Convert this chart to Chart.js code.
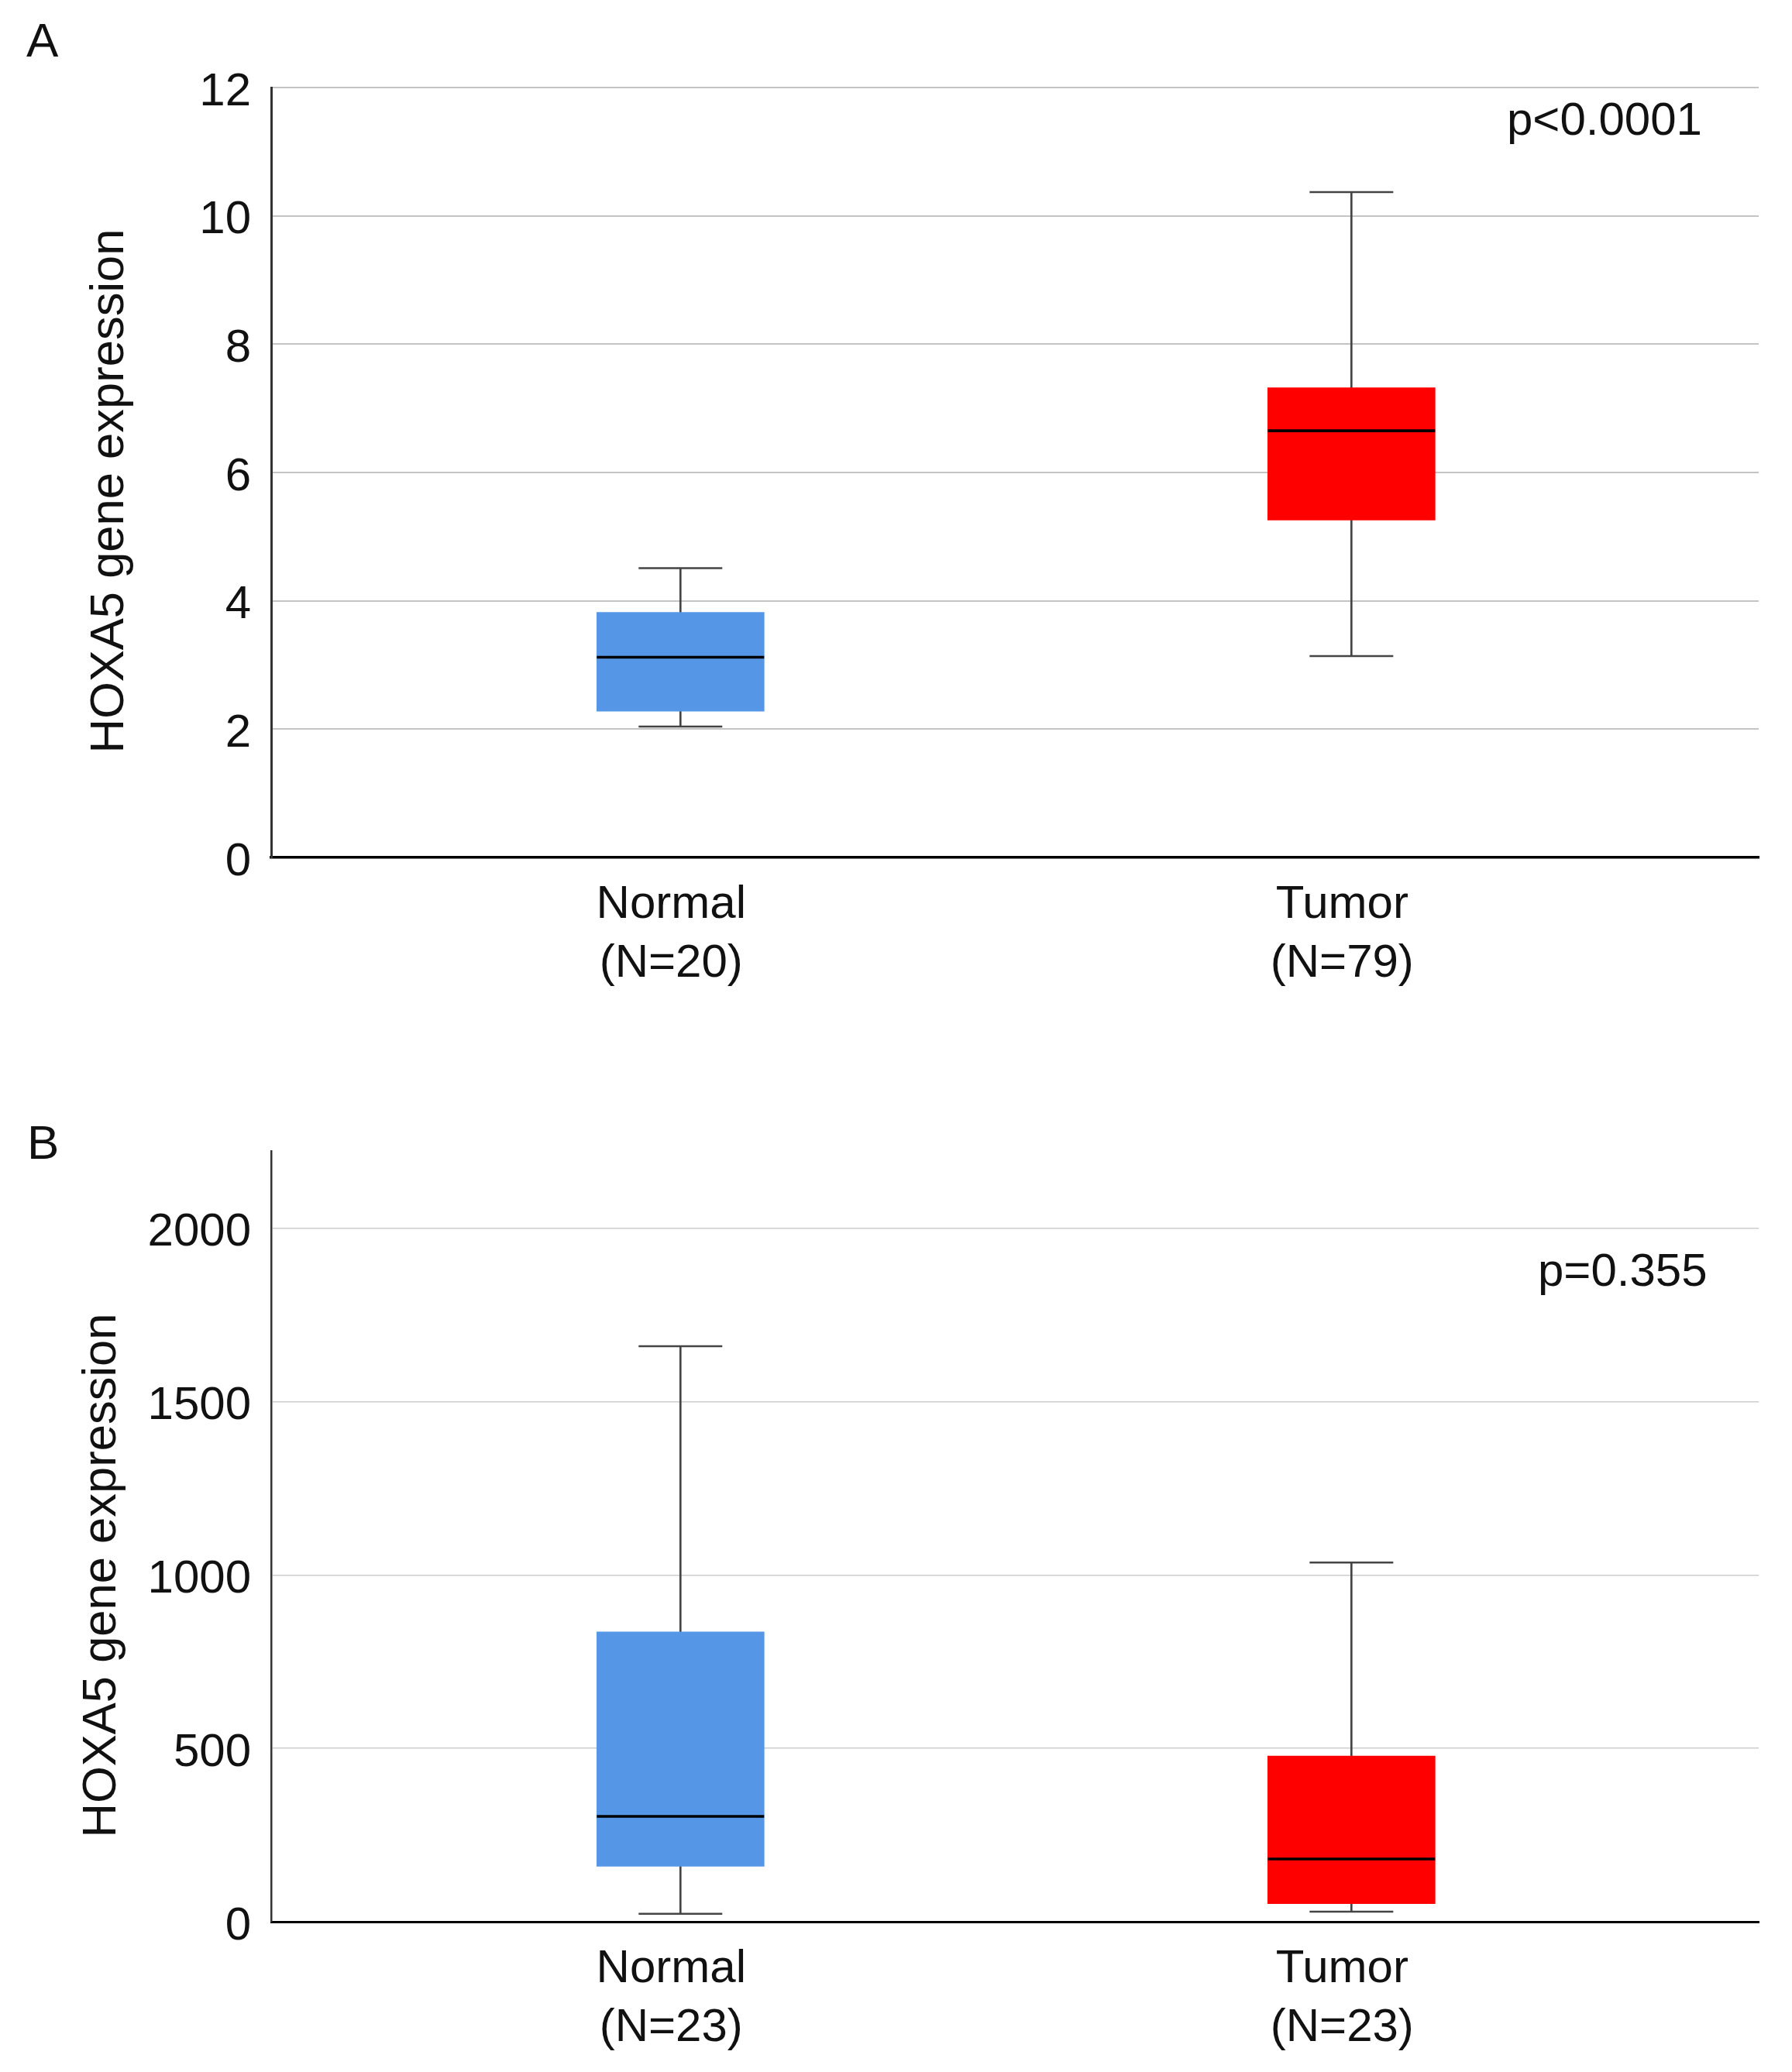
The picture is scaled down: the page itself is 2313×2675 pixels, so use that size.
<!DOCTYPE html>
<html>
<head>
<meta charset="utf-8">
<script src="https://cdn.jsdelivr.net/npm/chart.js@4.4.1/dist/chart.umd.min.js"></script>
<style>
  html, body { margin: 0; padding: 0; background: #fff; overflow: hidden; }
  canvas { position: absolute; left: 0; }
  #chartA { top: 0; }
  #chartB { top: 1340px; }
</style>
</head>
<body>
<canvas id="chartA" width="2313" height="1330" style="width:2313px;height:1330px"></canvas>
<canvas id="chartB" width="2313" height="1335" style="width:2313px;height:1335px"></canvas>
<script>
const groups = ['Normal', 'Tumor'];
const yTitle = 'HOXA5 gene expression';

// panel A
const countsA = ['(N=20)', '(N=79)'];
const minA = [2.04, 3.14];
const q1A = [2.28, 5.26];
const medA = [3.12, 6.65];
const q3A = [3.82, 7.32];
const maxA = [4.51, 10.37];
const ticksA = [0, 2, 4, 6, 8, 10, 12];

// panel B
const countsB = ['(N=23)', '(N=23)'];
const minB = [23, 29];
const q1B = [160, 52];
const medB = [304, 181];
const q3B = [836, 478];
const maxB = [1660, 1036];
const ticksB = [0, 500, 1000, 1500, 2000];

const FONT = "'Liberation Sans', Arial, sans-serif";
const TEXT = '#111111';
const boxColors = ['#5596e6', '#ff0000'];

// panel letter, p value and the rotated y title (sits a bit below the axis middle)
const panelText = {
    id: 'panelText',
    afterDraw(chart, args, opts) {
        const ctx = chart.ctx;
        ctx.save();
        ctx.fillStyle = TEXT;
        ctx.textAlign = 'left';
        ctx.textBaseline = 'alphabetic';
        ctx.font = '62px ' + FONT;
        ctx.fillText(opts.letter, opts.letterX, opts.letterY);
        ctx.font = '60px ' + FONT;
        ctx.fillText(opts.pText, opts.pX, opts.pY);

        ctx.translate(opts.titleX, opts.titleY);
        ctx.rotate(-Math.PI / 2);
        ctx.textAlign = 'center';
        ctx.textBaseline = 'middle';
        ctx.font = '61.5px ' + FONT;
        ctx.fillText(yTitle, 0, 0);
        ctx.restore();
    }
};

function pts(arr) {
    return arr.map((v, i) => ({ x: i, y: v }));
}

function capSet(label, arr) {
    return {
        type: 'line',
        label: label,
        data: pts(arr),
        showLine: false,
        pointStyle: 'line',
        pointRadius: 54,
        pointHoverRadius: 54,
        pointBorderWidth: 2.5,
        pointHoverBorderWidth: 2.5,
        pointBorderColor: '#444444',
        order: 2
    };
}

function boxDatasets(mins, q1s, meds, q3s, maxs) {
    return [
        {
            type: 'line',
            label: 'median',
            data: pts(meds),
            showLine: false,
            pointStyle: 'line',
            pointRadius: 108,
            pointHoverRadius: 108,
            pointBorderWidth: 3.6,
            pointHoverBorderWidth: 3.6,
            pointBorderColor: '#000000',
            order: 1
        },
        capSet('min', mins),
        capSet('max', maxs),
        {
            type: 'bar',
            label: 'box',
            data: q1s.map((v, i) => ({ x: i, y: [v, q3s[i]] })),
            backgroundColor: boxColors,
            borderWidth: 0,
            barThickness: 216,
            grouped: false,
            order: 3
        },
        {
            type: 'bar',
            label: 'whisker',
            data: mins.map((v, i) => ({ x: i, y: [v, maxs[i]] })),
            backgroundColor: '#444444',
            borderWidth: 0,
            barThickness: 2,
            grouped: false,
            order: 4
        }
    ];
}

function makeChart(id, o) {
    return new Chart(document.getElementById(id), {
        type: 'bar',
        data: { datasets: boxDatasets(o.mins, o.q1s, o.meds, o.q3s, o.maxs) },
        plugins: [panelText],
        options: {
            responsive: false,
            animation: false,
            devicePixelRatio: 1,
            events: [],
            layout: {
                autoPadding: false,
                padding: { left: 0, right: 43, top: o.padTop, bottom: o.padBottom }
            },
            plugins: {
                legend: { display: false },
                tooltip: { enabled: false },
                panelText: o.text
            },
            scales: {
                x: {
                    type: 'linear',
                    min: -0.61,
                    max: 1.607,
                    offset: false,
                    afterBuildTicks: (s) => { s.ticks = groups.map((g, i) => ({ value: i })); },
                    afterFit: (s) => { s.height = o.xHeight; },
                    grid: { display: false, offset: false },
                    border: { display: true, color: '#000000', width: o.xBorder },
                    ticks: {
                        autoSkip: false,
                        maxRotation: 0,
                        padding: 15,
                        labelOffset: -12,
                        color: TEXT,
                        font: { family: FONT, size: 60, lineHeight: 1.27 },
                        callback: (v) => [groups[v], o.counts[v]]
                    }
                },
                y: {
                    type: 'linear',
                    min: 0,
                    max: o.yMax,
                    afterBuildTicks: (s) => { s.ticks = o.ticks.map((v) => ({ value: v })); },
                    afterFit: (s) => { s.width = 350; },
                    grid: { color: o.gridColor, lineWidth: o.gridWidth, drawTicks: false },
                    border: { display: true, color: '#333333', width: o.yBorder },
                    ticks: {
                        padding: 26,
                        labelOffset: 6,
                        color: TEXT,
                        font: { family: FONT, size: 60 },
                        callback: (v) => String(v)
                    },
                    title: { display: false }
                }
            }
        }
    });
}

makeChart('chartA', {
    mins: minA, q1s: q1A, meds: medA, q3s: q3A, maxs: maxA,
    counts: countsA, ticks: ticksA, yMax: 12,
    padTop: 113, padBottom: 23, xHeight: 200,
    xBorder: 3.5, yBorder: 3, gridColor: '#c4c4c4', gridWidth: 2,
    text: { letter: 'A', letterX: 34, letterY: 73, pText: 'p<0.0001', pX: 1945, pY: 174,
            titleX: 142, titleY: 634 }
});

makeChart('chartB', {
    mins: minB, q1s: q1B, meds: medB, q3s: q3B, maxs: maxB,
    counts: countsB, ticks: ticksB, yMax: 2223,
    padTop: 146, padBottom: 4, xHeight: 190,
    xBorder: 3, yBorder: 2.5, gridColor: '#cdcdcd', gridWidth: 1.6,
    text: { letter: 'B', letterX: 35, letterY: 156, pText: 'p=0.355', pX: 1985, pY: 320,
            titleX: 132, titleY: 694 }
});
</script>
</body>
</html>
